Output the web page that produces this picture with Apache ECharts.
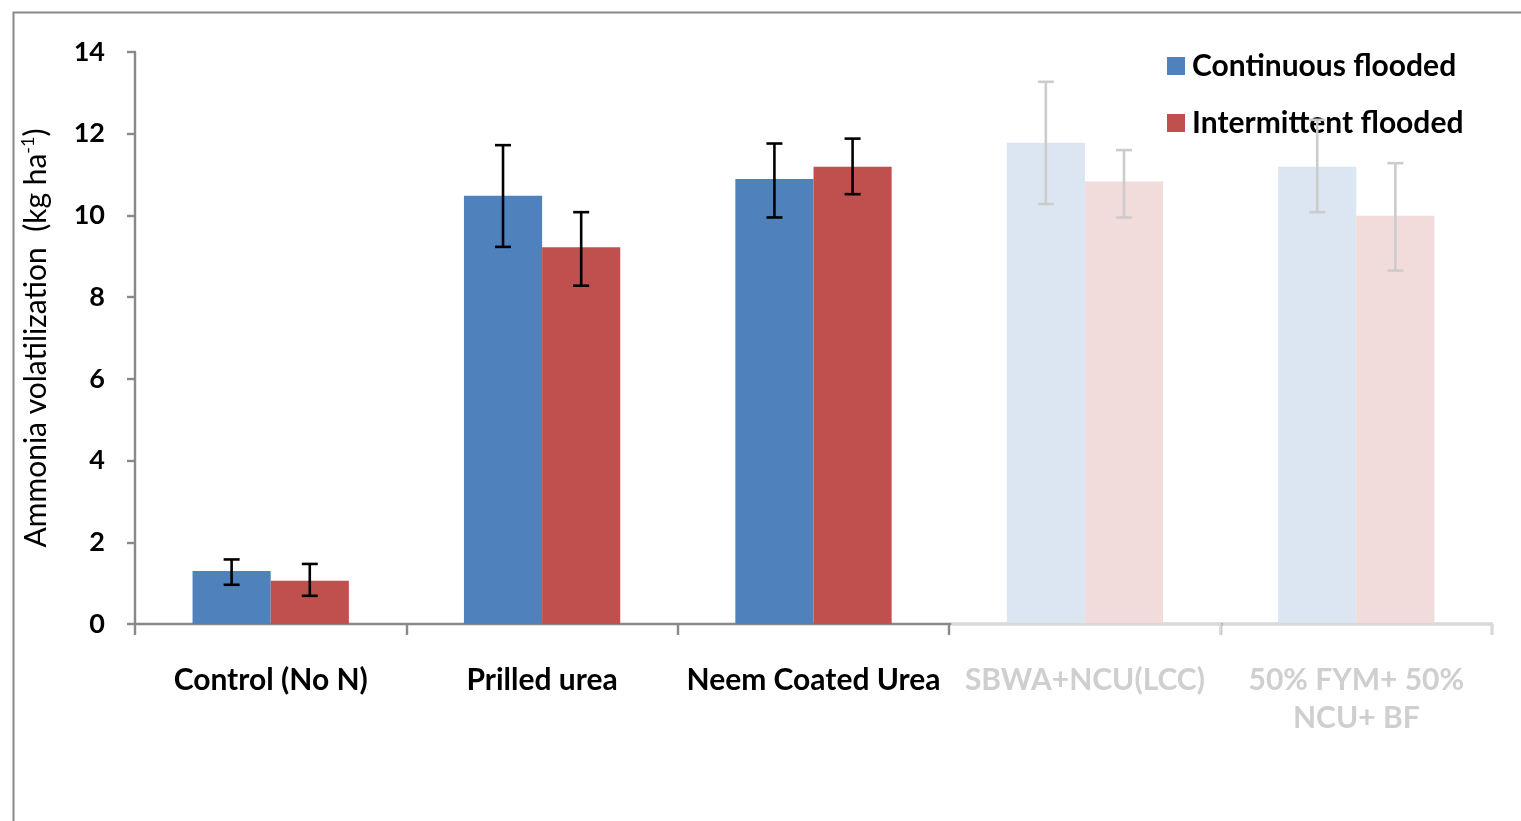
<!DOCTYPE html>
<html>
<head>
<meta charset="utf-8">
<script src="https://cdn.jsdelivr.net/npm/echarts@6/dist/echarts.min.js"></script>
<style>
html,body{margin:0;padding:0;background:#fff;}
#chart{width:1521px;height:821px;}
</style>
</head>
<body>
<div id="chart"></div>
<script>
// ---- data ----
var categories = ['Control (No N)', 'Prilled urea', 'Neem Coated Urea', 'SBWA+NCU(LCC)', '50% FYM+ 50%\nNCU+ BF'];
var seriesNames = ['Continuous flooded', 'Intermittent flooded'];
var continuous = [1.30, 10.48, 10.89, 11.78, 11.19];
var continuousLow = [0.96, 9.23, 9.95, 10.28, 10.08];
var continuousHigh = [1.58, 11.72, 11.76, 13.27, 12.34];
var intermittent = [1.06, 9.22, 11.19, 10.83, 9.99];
var intermittentLow = [0.69, 8.28, 10.52, 9.95, 8.65];
var intermittentHigh = [1.47, 10.08, 11.88, 11.60, 11.28];
var fadedFrom = 3; // categories from this index are shown faded
var yTicks = [0, 2, 4, 6, 8, 10, 12, 14];

var FONT = 'Lato';
var BLUE = '#4F81BD', RED = '#C0504D';
var BLUE_F = '#DCE6F2', RED_F = '#F2DCDB';
var AXIS = '#898989', AXIS_F = '#D9D9D9';
var TEXT_F = '#CFCFCF';
var BAR_FRAC = 0.288;

function barData(vals, col, colF) {
  return vals.map(function (v, i) {
    return { value: v, itemStyle: { color: i >= fadedFrom ? colF : col } };
  });
}
function errData(low, high) {
  return low.map(function (l, i) { return [i, l, high[i]]; });
}

var chart = echarts.init(document.getElementById('chart'));

function errRender(seriesIdx) {
  return function (params, api) {
    var i = api.value(0);
    var lo = api.coord([i, api.value(1)]);
    var hi = api.coord([i, api.value(2)]);
    var band = api.size([1, 0])[0];
    var barW = band * BAR_FRAC;
    var x = lo[0] + (seriesIdx === 0 ? -barW / 2 : barW / 2);
    var cap = 8;
    var col = i >= fadedFrom ? '#CCCCCC' : '#000000';
    var st = { stroke: col, lineWidth: 2.6 };
    return {
      type: 'group',
      children: [
        { type: 'line', shape: { x1: x, y1: lo[1], x2: x, y2: hi[1] }, style: st },
        { type: 'line', shape: { x1: x - cap, y1: lo[1], x2: x + cap, y2: lo[1] }, style: st },
        { type: 'line', shape: { x1: x - cap, y1: hi[1], x2: x + cap, y2: hi[1] }, style: st }
      ]
    };
  };
}

// faded axis segment for faded categories
function axisRender(params, api) {
  var i = api.value(0);
  var p = api.coord([i, 0]);
  var band = api.size([1, 0])[0];
  var x0 = p[0] - band / 2, x1 = p[0] + band / 2;
  return {
    type: 'group',
    children: [
      { type: 'line', shape: { x1: x0 + 2, y1: p[1], x2: x1 + 1, y2: p[1] }, style: { stroke: AXIS_F, lineWidth: 2.4 } },
      { type: 'line', shape: { x1: x1, y1: p[1], x2: x1, y2: p[1] + 11 }, style: { stroke: AXIS_F, lineWidth: 2.4 } }
    ]
  };
}
var axisFadeData = [];
for (var k = fadedFrom; k < categories.length; k++) axisFadeData.push([k, 0]);

var labelRich = { n: { color: '#000', fontWeight: 'bold', fontSize: 30, fontFamily: FONT, lineHeight: 38 },
                  f: { color: TEXT_F, fontWeight: 'bold', fontSize: 30, fontFamily: FONT, lineHeight: 38 } };

var option = {
  animation: false,
  backgroundColor: '#fff',
  graphic: [{
    type: 'rect', left: 11, top: 10, shape: { x: 0, y: 0, width: 1700, height: 1000 },
    style: { fill: 'none', stroke: AXIS, lineWidth: 2 }, silent: true, z: -1
  }],
  grid: { left: 135, right: 29, top: 52, bottom: 197, containLabel: false },
  legend: {
    orient: 'vertical', left: 1162, top: 46, itemWidth: 18, itemHeight: 18, itemGap: 27,
    icon: 'rect',
    data: seriesNames,
    textStyle: { fontFamily: FONT, fontWeight: 'bold', fontSize: 30, color: '#000', padding: [0, 0, 0, 2] },
    z: 1
  },
  xAxis: {
    type: 'category',
    data: categories,
    boundaryGap: true,
    axisLine: { lineStyle: { color: AXIS, width: 2.4 } },
    axisTick: { show: true, length: 11, lineStyle: { color: AXIS, width: 2.4 } },
    axisLabel: {
      margin: 37,
      interval: 0,
      formatter: function (v, i) {
        var tag = i >= fadedFrom ? 'f' : 'n';
        return v.split('\n').map(function (s) { return '{' + tag + '|' + s + '}'; }).join('\n');
      },
      rich: labelRich
    },
    splitLine: { show: false }
  },
  yAxis: {
    type: 'value',
    min: 0, max: 14, interval: 2,
    axisLine: { show: true, lineStyle: { color: AXIS, width: 2.4 } },
    axisTick: { show: true, length: 8, lineStyle: { color: AXIS, width: 2.4 } },
    axisLabel: {
      margin: 30, color: '#000', fontWeight: 'bold', fontSize: 27, fontFamily: FONT,
      formatter: function (v) { return yTicks.indexOf(v) >= 0 ? String(v) : ''; }
    },
    splitLine: { show: false },
    name: '{a|Ammonia volatilization  (kg ha}{s|-1}{a|)}',
    nameLocation: 'middle',
    nameGap: 82,
    nameRotate: 90,
    nameTextStyle: {
      rich: {
        a: { fontFamily: FONT, fontSize: 30, color: '#000', fontWeight: 'normal', lineHeight: 34 },
        s: { fontFamily: FONT, fontSize: 18, color: '#000', verticalAlign: 'top', lineHeight: 34 }
      }
    }
  },
  series: [
    { name: seriesNames[0], type: 'bar', data: barData(continuous, BLUE, BLUE_F), barWidth: (BAR_FRAC * 100) + '%', barGap: '0%', itemStyle: { color: BLUE }, z: 2 },
    { name: seriesNames[1], type: 'bar', data: barData(intermittent, RED, RED_F), barWidth: (BAR_FRAC * 100) + '%', barGap: '0%', itemStyle: { color: RED }, z: 2 },
    { type: 'custom', renderItem: errRender(0), data: errData(continuousLow, continuousHigh), encode: { x: 0, y: [1, 2] }, z: 3, clip: false, silent: true },
    { type: 'custom', renderItem: errRender(1), data: errData(intermittentLow, intermittentHigh), encode: { x: 0, y: [1, 2] }, z: 3, clip: false, silent: true },
    { type: 'custom', renderItem: axisRender, data: axisFadeData, encode: { x: 0, y: 1 }, z: 5, clip: false, silent: true }
  ]
};
chart.setOption(option);
</script>
</body>
</html>
